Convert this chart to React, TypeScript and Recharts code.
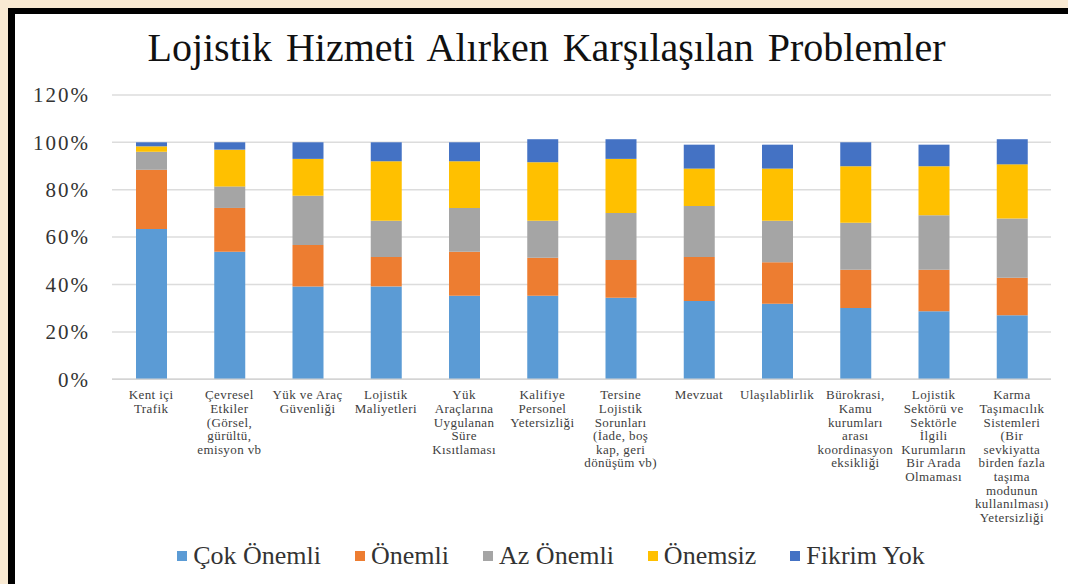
import { Bar, BarChart, CartesianGrid, XAxis, YAxis } from "recharts"

const serif = '"Liberation Serif", "Times New Roman", Times, serif'

// category labels, one entry per line as in the original wrap
const categoryLines: string[][] = [
  ["Kent içi", "Trafik"],
  ["Çevresel", "Etkiler", "(Görsel,", "gürültü,", "emisyon vb"],
  ["Yük ve Araç", "Güvenliği"],
  ["Lojistik", "Maliyetleri"],
  ["Yük", "Araçlarına", "Uygulanan", "Süre", "Kısıtlaması"],
  ["Kalifiye", "Personel", "Yetersizliği"],
  ["Tersine", "Lojistik", "Sorunları", "(İade, boş", "kap, geri", "dönüşüm vb)"],
  ["Mevzuat"],
  ["Ulaşılablirlik"],
  ["Bürokrasi,", "Kamu", "kurumları", "arası", "koordinasyon", "eksikliği"],
  ["Lojistik", "Sektörü ve", "Sektörle", "İlgili", "Kurumların", "Bir Arada", "Olmaması"],
  ["Karma", "Taşımacılık", "Sistemleri", "(Bir", "sevkiyatta", "birden fazla", "taşıma", "modunun", "kullanılması)", "Yetersizliği"],
]
const categories = categoryLines.map((l) => l.join(" "))

const cokOnemli = [63.4, 53.8, 39.2, 39.2, 35.3, 35.3, 34.4, 33.0, 31.9, 30.1, 28.7, 27.0]
const onemli = [25.0, 18.5, 17.5, 12.4, 18.5, 16.0, 15.9, 18.6, 17.5, 16.1, 17.5, 15.9]
const azOnemli = [7.6, 9.1, 20.8, 15.3, 18.5, 15.6, 19.9, 21.5, 17.5, 19.9, 23.0, 24.9]
const onemsiz = [2.3, 15.5, 15.5, 25.1, 19.7, 24.7, 22.8, 15.8, 22.0, 23.8, 20.7, 22.9]
const fikrimYok = [1.7, 3.1, 7.0, 8.0, 8.0, 9.7, 8.3, 10.1, 10.1, 10.1, 9.1, 10.6]

const seriesNames = ["Çok Önemli", "Önemli", "Az Önemli", "Önemsiz", "Fikrim Yok"]
const seriesColors = ["#5B9BD5", "#ED7D31", "#A5A5A5", "#FFC000", "#4472C4"]
const seriesValues = [cokOnemli, onemli, azOnemli, onemsiz, fikrimYok]

const yTicks = [0, 20, 40, 60, 80, 100, 120]

const data = categories.map((name, i) => {
  const row: Record<string, string | number> = { name }
  seriesNames.forEach((s, j) => {
    row[s] = seriesValues[j][i]
  })
  return row
})

function CategoryTick({ x, y, payload }: any) {
  const idx = categories.indexOf(payload.value)
  const lines = idx >= 0 ? categoryLines[idx] : [String(payload.value)]
  return (
    <text x={x} y={y + 20} textAnchor="middle" fill="#404040" style={{ fontFamily: serif, fontSize: 13, letterSpacing: 0.4 }}>
      {lines.map((line, i) => (
        <tspan key={i} x={x} dy={i === 0 ? 0 : 13.6}>
          {line}
        </tspan>
      ))}
    </text>
  )
}

function PercentTick({ x, y, payload }: any) {
  return (
    <text x={x - 22} y={y} dy="0.35em" textAnchor="end" fill="#333" style={{ fontFamily: serif, fontSize: 21, letterSpacing: 2 }}>
      {payload.value}%
    </text>
  )
}

export default function App() {
  return (
    <div style={{ position: "fixed", left: 0, top: 0, right: 0, bottom: 0, background: "#f9ead3", overflow: "hidden" }}>
      <div
        style={{
          position: "absolute",
          left: 8,
          top: 8,
          right: -20,
          bottom: -20,
          background: "#fff",
          borderLeft: "7px solid #000",
          borderTop: "6px solid #000",
        }}
      />
      <div
        style={{
          position: "absolute",
          left: 0,
          top: 28,
          width: 1068,
          paddingLeft: 25,
          boxSizing: "border-box",
          textAlign: "center",
          fontFamily: serif,
          fontSize: 40,
          lineHeight: "40px",
          wordSpacing: 4,
          color: "#111",
        }}
      >
        Lojistik Hizmeti Alırken Karşılaşılan Problemler
      </div>
      <div style={{ position: "absolute", left: 0, top: 0 }}>
        <BarChart width={1068} height={584} data={data} margin={{ top: 94.9, right: 17, bottom: 14.7, left: 0 }}>
          <CartesianGrid vertical={false} stroke="#dcdcdc" strokeWidth={1.5} />
          <XAxis
            dataKey="name"
            interval={0}
            height={190}
            tickLine={false}
            tickSize={0}
            tickMargin={0}
            axisLine={{ stroke: "#d4d4d4", strokeWidth: 1.5 }}
            tick={<CategoryTick />}
          />
          <YAxis
            width={112}
            domain={[0, 120]}
            ticks={yTicks}
            axisLine={false}
            tickLine={false}
            tickSize={0}
            tickMargin={0}
            tick={<PercentTick />}
          />
          {seriesNames.map((s, j) => (
            <Bar key={s} dataKey={s} stackId="a" fill={seriesColors[j]} barSize={31} isAnimationActive={false} />
          ))}
        </BarChart>
      </div>
      <div
        style={{
          position: "absolute",
          left: 0,
          top: 541,
          width: 1068,
          height: 30,
          paddingLeft: 34,
          boxSizing: "border-box",
          display: "flex",
          justifyContent: "center",
          alignItems: "center",
          gap: 34,
          fontFamily: serif,
          fontSize: 26,
          color: "#333",
        }}
      >
        {seriesNames.map((s, j) => (
          <div key={s} style={{ display: "flex", alignItems: "center" }}>
            <span style={{ display: "inline-block", width: 10, height: 10, background: seriesColors[j], marginRight: 6 }} />
            <span>{s}</span>
          </div>
        ))}
      </div>
    </div>
  )
}
